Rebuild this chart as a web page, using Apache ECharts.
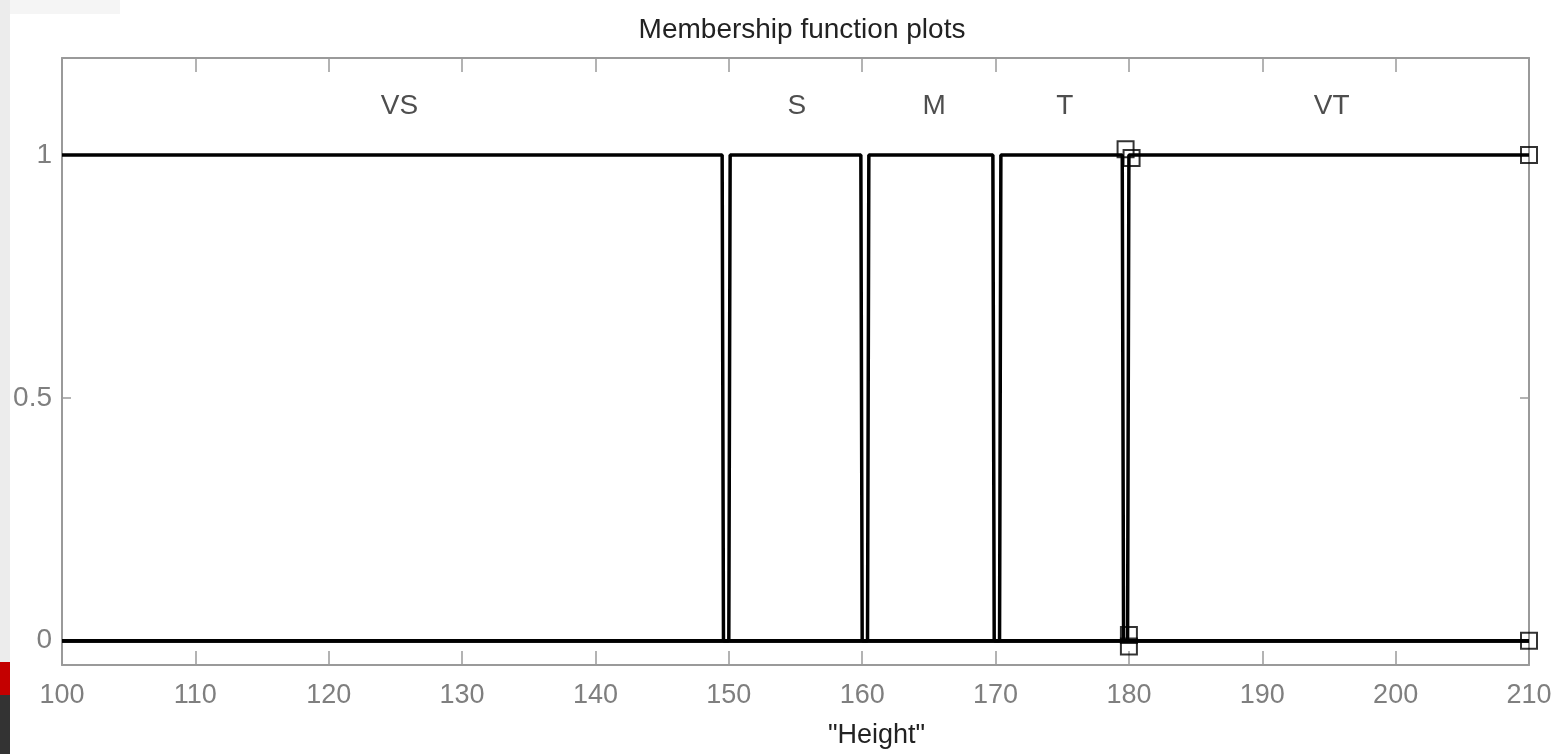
<!DOCTYPE html>
<html>
<head>
<meta charset="utf-8">
<script src="https://cdn.jsdelivr.net/npm/echarts@6/dist/echarts.min.js"></script>
<style>html,body{margin:0;padding:0;background:#fff}#c{width:1558px;height:754px}</style>
</head>
<body>
<div id="c"></div>
<script>
// ---- data ----
const xTicks = [100,110,120,130,140,150,160,170,180,190,200,210];
const yTicks = [0, 0.5, 1];
const vsX = [100, 149.5, 149.6, 210];            const vsY = [1, 1, 0, 0];
const sX  = [100, 150.0, 150.1, 159.9, 160.0, 210]; const sY  = [0, 0, 1, 1, 0, 0];
const mX  = [100, 160.4, 160.5, 169.8, 169.9, 210]; const mY  = [0, 0, 1, 1, 0, 0];
const tX  = [100, 170.3, 170.4, 179.5, 179.6, 210]; const tY  = [0, 0, 1, 1, 0, 0];
const vtX = [100, 179.9, 180.0, 210];            const vtY = [0, 0, 1, 1];
const mfNames = ['VS','S','M','T','VT'];
const mfLabelX = [125.3, 155.1, 165.4, 175.2, 195.2];
const mfLabelY = [1.1, 1.1, 1.1, 1.1, 1.1];
const markX = [179.75, 180.2, 180.0, 180.0, 210, 210];
const markY = [1.012, 0.994, 0.012, -0.012, 1, 0];

const zip = (xs, ys) => xs.map((x, i) => [x, ys[i]]);
const font = '"Liberation Sans", Arial, sans-serif';
const axisCol = '#9a9a9a';
const lineSeries = (name, xs, ys) => ({
  name, type: 'line', data: zip(xs, ys), showSymbol: false, symbol: 'none',
  lineStyle: { color: '#000', width: 3.5 }, z: 3, animation: false
});

const chart = echarts.init(document.getElementById('c'), null, { renderer: 'canvas' });
const xBase = {
  type: 'value', min: 100, max: 210, interval: 10,
  splitLine: { show: false },
  axisLine: { show: true, onZero: false, lineStyle: { color: axisCol, width: 2 } },
  axisTick: { show: true, inside: true, length: 14, lineStyle: { color: axisCol, width: 1.5 } }
};
const yBase = {
  type: 'value', min: -0.05, max: 1.2,
  splitLine: { show: false },
  axisLine: { show: true, onZero: false, lineStyle: { color: axisCol, width: 2 } },
  axisTick: { show: true, inside: true, length: 9, customValues: yTicks, lineStyle: { color: axisCol, width: 1.5 } }
};
chart.setOption({
  backgroundColor: '#fff',
  animation: false,
  title: {
    text: 'Membership function plots', left: 797, top: 11, textAlign: 'center',
    textStyle: { fontFamily: font, fontSize: 28, fontWeight: 'normal', color: '#222' }
  },
  grid: { left: 62, right: 29, top: 58, bottom: 86, containLabel: false },
  xAxis: [
    Object.assign({}, xBase, {
      position: 'bottom',
      name: '"Height"', nameLocation: 'middle', nameGap: 57,
      nameTextStyle: { fontFamily: font, fontSize: 27, color: '#222', padding: [0, 0, 0, 162] },
      axisLabel: { show: true, margin: 17, fontFamily: font, fontSize: 27, color: '#7f7f7f',
        customValues: xTicks }
    }),
    Object.assign({}, xBase, { position: 'top', axisLabel: { show: false } })
  ],
  yAxis: [
    Object.assign({}, yBase, {
      position: 'left',
      axisLabel: { show: true, margin: 10, fontFamily: font, fontSize: 28, color: '#7f7f7f',
        customValues: yTicks }
    }),
    Object.assign({}, yBase, { position: 'right', axisLabel: { show: false } })
  ],
  series: [
    lineSeries('VS', vsX, vsY),
    lineSeries('S', sX, sY),
    lineSeries('M', mX, mY),
    lineSeries('T', tX, tY),
    lineSeries('VT', vtX, vtY),
    {
      type: 'scatter', data: zip(mfLabelX, mfLabelY).map((p, i) => ({ value: p, name: mfNames[i] })),
      symbolSize: 0, silent: true, z: 4,
      label: { show: true, position: 'inside', formatter: p => p.name,
        fontFamily: font, fontSize: 28, color: '#222' }
    },
    {
      type: 'scatter', data: zip(markX, markY), symbol: 'rect', symbolSize: 16, z: 5,
      itemStyle: { color: 'rgba(255,255,255,0)', borderColor: '#000', borderWidth: 2 }
    }
  ],
  graphic: [
    { type: 'rect', shape: { x: 0, y: 0, width: 10, height: 662 }, style: { fill: '#ececec' }, silent: true },
    { type: 'rect', shape: { x: 0, y: 662, width: 10, height: 33 }, style: { fill: '#c40000' }, silent: true },
    { type: 'rect', shape: { x: 0, y: 695, width: 10, height: 59 }, style: { fill: '#333333' }, silent: true },
    { type: 'rect', shape: { x: 10, y: 0, width: 110, height: 14 }, style: { fill: '#f5f5f5' }, silent: true }
  ]
});
</script>
</body>
</html>
